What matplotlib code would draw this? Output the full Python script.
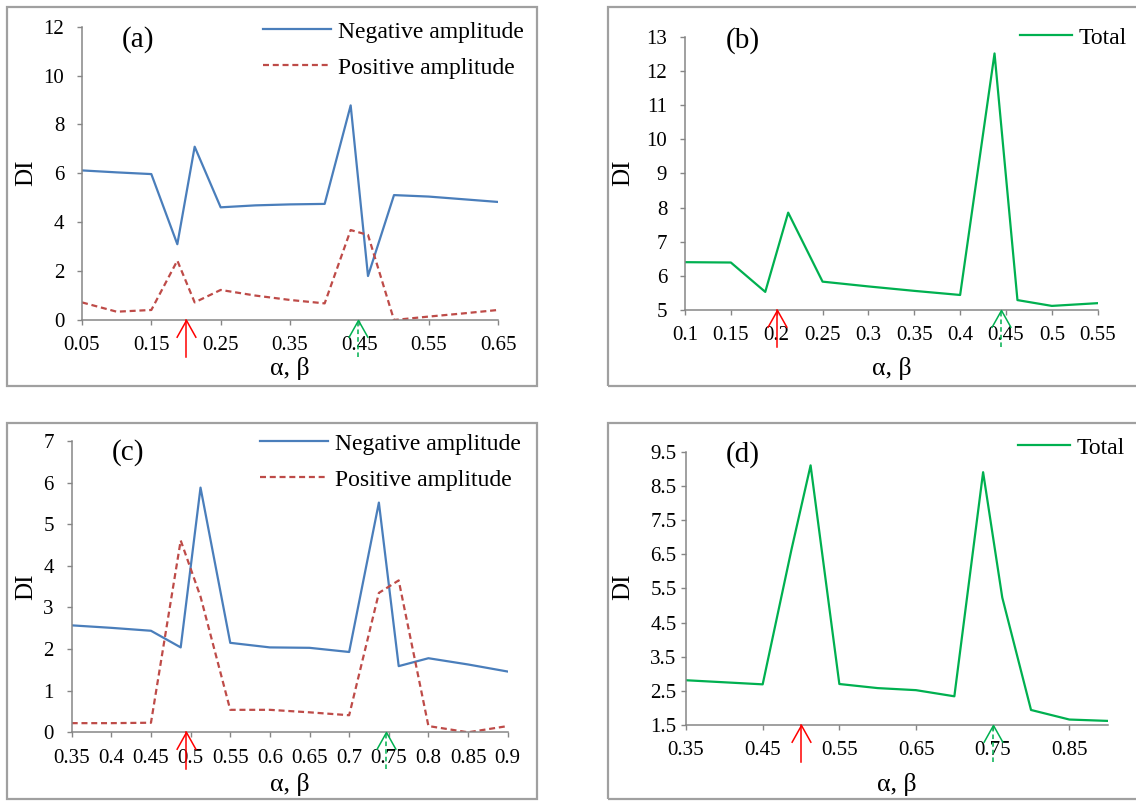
import matplotlib
matplotlib.use("Agg")
import matplotlib.pyplot as plt
from matplotlib.path import Path
from matplotlib.patches import Rectangle

# ---- data -------------------------------------------------------------
a_x = [0.05, 0.10, 0.15, 0.1875, 0.2125, 0.25, 0.30, 0.35, 0.40, 0.4375, 0.4625, 0.50, 0.55, 0.60, 0.65]
a_neg = [6.12, 6.04, 5.97, 3.10, 7.09, 4.61, 4.69, 4.73, 4.75, 8.78, 1.80, 5.11, 5.05, 4.94, 4.83]
a_pos = [0.72, 0.34, 0.41, 2.43, 0.72, 1.23, 1.00, 0.82, 0.68, 3.68, 3.48, 0.00, 0.14, 0.27, 0.41]

b_x = [0.10, 0.15, 0.1875, 0.2125, 0.25, 0.30, 0.35, 0.40, 0.4375, 0.4625, 0.50, 0.55]
b_total = [6.40, 6.39, 5.53, 7.85, 5.83, 5.69, 5.56, 5.44, 12.51, 5.29, 5.12, 5.20]

c_x = [0.35, 0.40, 0.45, 0.4875, 0.5125, 0.55, 0.60, 0.65, 0.70, 0.7375, 0.7625, 0.80, 0.85, 0.90]
c_neg = [2.57, 2.51, 2.44, 2.04, 5.88, 2.15, 2.04, 2.03, 1.93, 5.52, 1.59, 1.78, 1.63, 1.46]
c_pos = [0.22, 0.22, 0.23, 4.61, 3.26, 0.54, 0.54, 0.48, 0.41, 3.35, 3.65, 0.15, 0.00, 0.15]

d_x = [0.35, 0.40, 0.45, 0.4875, 0.5125, 0.55, 0.60, 0.65, 0.70, 0.7375, 0.7625, 0.80, 0.85, 0.90]
d_total = [2.81, 2.75, 2.69, 6.63, 9.10, 2.70, 2.58, 2.52, 2.34, 8.90, 5.23, 1.94, 1.66, 1.62]

a_xticks = [0.05, 0.15, 0.25, 0.35, 0.45, 0.55, 0.65]
a_xlabels = ["0.05", "0.15", "0.25", "0.35", "0.45", "0.55", "0.65"]
a_yticks = [0, 2, 4, 6, 8, 10, 12]

b_xticks = [0.10, 0.15, 0.20, 0.25, 0.30, 0.35, 0.40, 0.45, 0.50, 0.55]
b_xlabels = ["0.1", "0.15", "0.2", "0.25", "0.3", "0.35", "0.4", "0.45", "0.5", "0.55"]
b_yticks = [5, 6, 7, 8, 9, 10, 11, 12, 13]

c_xticks = [0.35, 0.40, 0.45, 0.50, 0.55, 0.60, 0.65, 0.70, 0.75, 0.80, 0.85, 0.90]
c_xlabels = ["0.35", "0.4", "0.45", "0.5", "0.55", "0.6", "0.65", "0.7", "0.75", "0.8", "0.85", "0.9"]
c_yticks = [0, 1, 2, 3, 4, 5, 6, 7]

d_xticks = [0.35, 0.45, 0.55, 0.65, 0.75, 0.85]
d_xlabels = ["0.35", "0.45", "0.55", "0.65", "0.75", "0.85"]
d_yticks = [1.5, 2.5, 3.5, 4.5, 5.5, 6.5, 7.5, 8.5, 9.5]
d_ylabels = ["1.5", "2.5", "3.5", "4.5", "5.5", "6.5", "7.5", "8.5", "9.5"]

# marked parameter values (red: alpha, green: beta)
a_marks = (0.20, 0.448)
b_marks = (0.20, 0.445)
c_marks = (0.494, 0.746)
d_marks = (0.50, 0.75)

# ---- style ------------------------------------------------------------
W, H = 1136, 801
SERIF = "Liberation Serif"
BLUE = "#4A7EBB"
RED_D = "#BE4B48"
GREEN = "#00B050"
ARROW_RED = "#FF0000"
AXIS_GRAY = "#868686"
BOX_GRAY = "#A0A0A0"

plt.rcParams["font.family"] = [SERIF, "DejaVu Serif"]

fig = plt.figure(figsize=(W / 100, H / 100), dpi=100)
fig.patch.set_facecolor("white")


def fx(px):
    return px / W


def fy(py):
    return 1 - py / H


# panel frames
for (l, t, r, b) in [(7, 7, 537, 386), (608, 7, 1145, 386),
                     (7, 423, 537, 799), (608, 423, 1145, 799)]:
    fig.add_artist(Rectangle((fx(l), fy(b)), fx(r - l), (b - t) / H,
                             transform=fig.transFigure, fill=False,
                             edgecolor=BOX_GRAY, linewidth=1.6, zorder=0))

# open V arrow head as a marker (tip at the anchor point)
HEAD = Path([(-0.56, -1.0), (0.0, 0.0), (0.56, -1.0)],
            [Path.MOVETO, Path.LINETO, Path.LINETO])


def make_axes(l, t, r, b):
    ax = fig.add_axes([fx(l), fy(b), fx(r - l), (b - t) / H])
    for s in ("top", "right"):
        ax.spines[s].set_visible(False)
    for s in ("left", "bottom"):
        ax.spines[s].set_color(AXIS_GRAY)
        ax.spines[s].set_linewidth(1.1)
    ax.tick_params(direction="out", length=3.8, width=1.0, color=AXIS_GRAY,
                   labelsize=15, labelcolor="black")
    ax.tick_params(axis="x", pad=8)
    ax.tick_params(axis="y", pad=9)
    return ax, (b - t)


def draw_marks(ax, marks, height_px, tail_px=37):
    tail = -tail_px / height_px
    tr = ax.get_xaxis_transform()
    xr, xg = marks
    ax.plot([xr, xr], [tail, 0], color=ARROW_RED, lw=1.1, transform=tr,
            clip_on=False, zorder=5)
    ax.plot([xr], [0], marker=HEAD, ms=25, mfc="none", mec=ARROW_RED, mew=1.1,
            transform=tr, clip_on=False, zorder=5)
    ax.plot([xg, xg], [tail, 0], color=GREEN, lw=1.1, ls=(0, (3, 2)),
            transform=tr, clip_on=False, zorder=5)
    ax.plot([xg], [0], marker=HEAD, ms=25, mfc="none", mec=GREEN, mew=1.1,
            transform=tr, clip_on=False, zorder=5)


def labels(ax, ylab_xy, xlab_xy):
    ax.set_ylabel("DI", fontsize=18)
    ax.yaxis.label.set_va("center")
    ax.yaxis.set_label_coords(fx(ylab_xy[0]), fy(ylab_xy[1]), transform=fig.transFigure)
    ax.set_xlabel("α, β", fontsize=18.5)
    ax.xaxis.label.set_va("center")
    ax.xaxis.set_label_coords(fx(xlab_xy[0]), fy(xlab_xy[1]), transform=fig.transFigure)


def legend(ax, x_px, y_px, handlelength):
    ax.legend(loc="upper left", bbox_to_anchor=(fx(x_px), fy(y_px)),
              bbox_transform=fig.transFigure, frameon=False, borderpad=0,
              borderaxespad=0, handlelength=handlelength, handletextpad=0.3,
              labelspacing=0.62, prop={"family": SERIF, "size": 17})


dash_style = (0, (2.7, 1.7))

# ---- (a) --------------------------------------------------------------
ax, hp = make_axes(82, 26.7, 498, 320)
ax.plot(a_x, a_neg, color=BLUE, lw=1.6, label="Negative amplitude")
ax.plot(a_x, a_pos, color=RED_D, lw=1.6, ls=dash_style, label="Positive amplitude")
ax.set_xlim(0.05, 0.65)
ax.set_ylim(0, 12)
ax.set_xticks(a_xticks, a_xlabels)
ax.set_yticks(a_yticks)
draw_marks(ax, a_marks, hp)
labels(ax, (26, 173), (290, 369))
legend(ax, 263, 21, 2.88)
fig.text(fx(138), fy(40), "(a)", fontsize=21, ha="center", va="center")

# ---- (b) --------------------------------------------------------------
ax, hp = make_axes(685, 36.7, 1097.7, 310)
ax.plot(b_x, b_total, color=GREEN, lw=1.6, label="Total")
ax.set_xlim(0.10, 0.55)
ax.set_ylim(5, 13)
ax.set_xticks(b_xticks, b_xlabels)
ax.set_yticks(b_yticks)
draw_marks(ax, b_marks, hp)
labels(ax, (623, 173), (892, 369))
legend(ax, 1020, 27, 2.2)
fig.text(fx(743), fy(41), "(b)", fontsize=21, ha="center", va="center")

# ---- (c) --------------------------------------------------------------
ax, hp = make_axes(71.7, 441, 507.7, 732.3)
ax.plot(c_x, c_neg, color=BLUE, lw=1.6, label="Negative amplitude")
ax.plot(c_x, c_pos, color=RED_D, lw=1.6, ls=dash_style, label="Positive amplitude")
ax.set_xlim(0.35, 0.90)
ax.set_ylim(0, 7)
ax.set_xticks(c_xticks, c_xlabels)
ax.set_yticks(c_yticks)
draw_marks(ax, c_marks, hp)
labels(ax, (26, 587), (290, 784))
legend(ax, 260, 433, 2.88)
fig.text(fx(128), fy(453), "(c)", fontsize=21, ha="center", va="center")

# ---- (d) --------------------------------------------------------------
ax, hp = make_axes(686, 451.7, 1107.7, 725)
ax.plot(d_x, d_total, color=GREEN, lw=1.6, label="Total")
ax.set_xlim(0.35, 0.90)
ax.set_ylim(1.5, 9.5)
ax.set_xticks(d_xticks, d_xlabels)
ax.set_yticks(d_yticks, d_ylabels)
ax.tick_params(axis="y", pad=3)
draw_marks(ax, d_marks, hp)
labels(ax, (623, 587), (897, 784))
legend(ax, 1018, 437, 2.2)
fig.text(fx(743), fy(455), "(d)", fontsize=21, ha="center", va="center")

fig.savefig("out.png", dpi=100, facecolor="white")
